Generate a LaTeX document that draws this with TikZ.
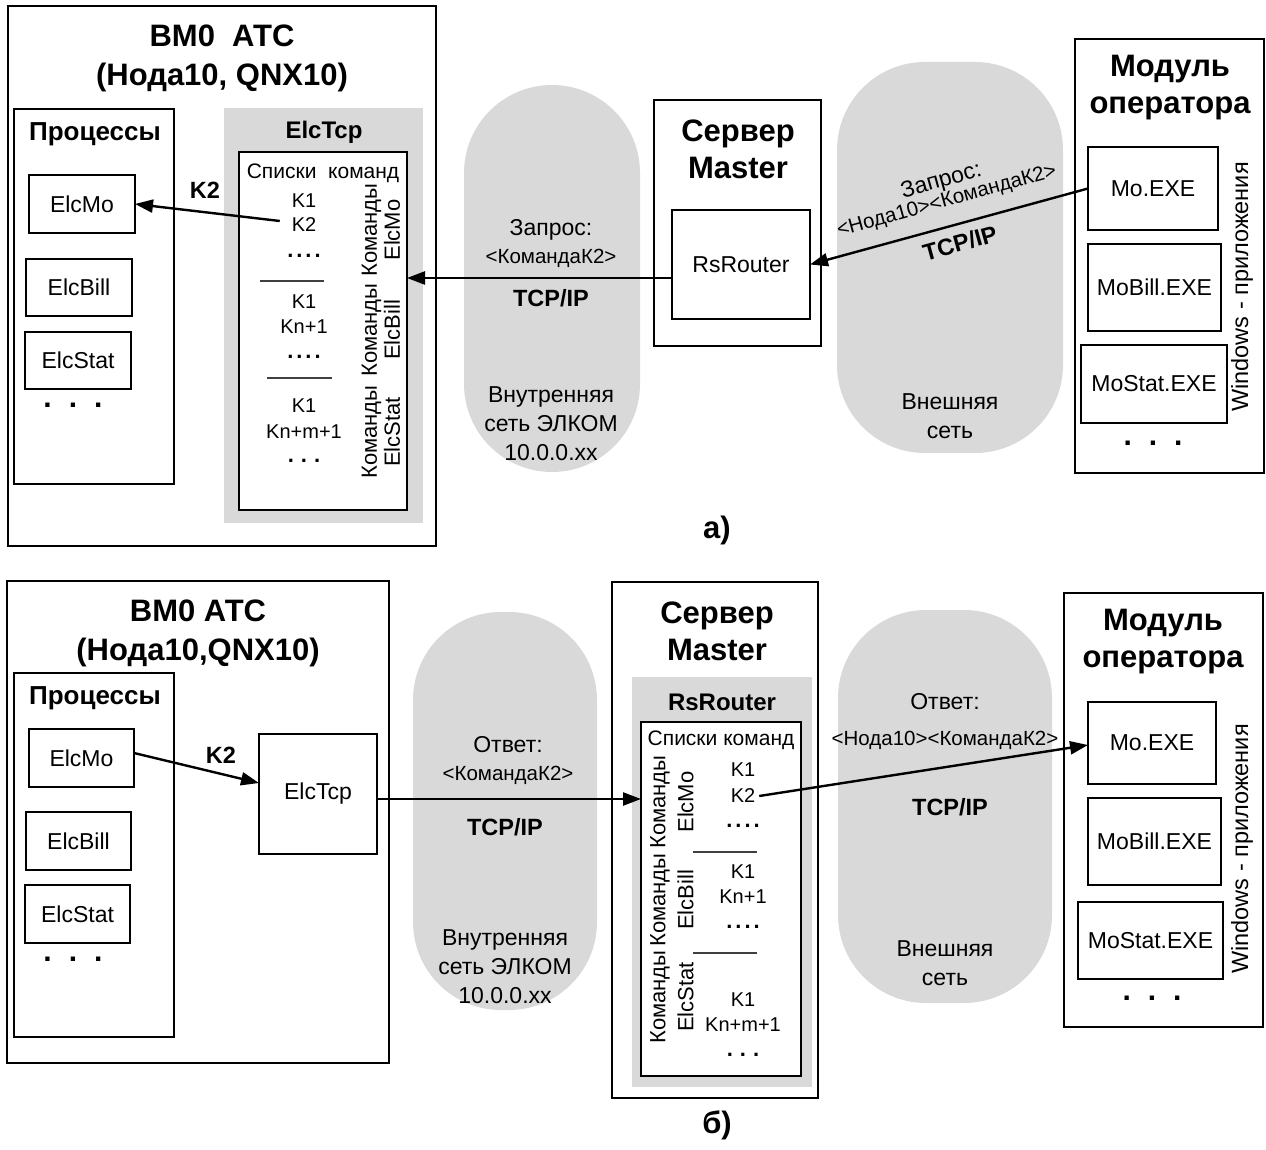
\documentclass[tikz,border=0pt]{standalone}
\usepackage{fontspec}
\setmainfont{Liberation Sans}
\usetikzlibrary{arrows.meta}
\definecolor{netgray}{RGB}{217,217,217}
\newcommand\fsz[2]{\fontsize{#1}{#2}\selectfont}
\newcommand\fourdots{\textbf{.\hspace{3pt}.\hspace{3pt}.\hspace{3pt}.}}
\newcommand\threedots{\textbf{.\hspace{7pt}.\hspace{7pt}.}}
\newcommand\bigdots{.\hspace{17pt}.\hspace{17pt}.}
\begin{document}
\begin{tikzpicture}[x=1pt,y=-1pt,
  every node/.style={inner sep=0pt, outer sep=0pt},
  wh/.style 2 args={minimum width=#1pt, minimum height=#2pt},
  frame/.style={draw, line width=1.8pt, fill=white, font=\fsz{23}{27}},
  graybg/.style={fill=netgray},
  pill/.style={fill=netgray, rounded corners=88pt},
  title/.style={font=\fsz{31}{39}\bfseries, align=center},
  big/.style={font=\fsz{31}{37}\bfseries, align=center},
  head/.style={font=\fsz{26}{30}\bfseries},
  headS/.style={font=\fsz{24}{28}\bfseries},
  txt/.style={font=\fsz{23}{29}, align=center},
  small/.style={font=\fsz{20.5}{24}},
  bold/.style={font=\fsz{23.5}{27}\bfseries},
  lst/.style={font=\fsz{21}{25}},
  kk/.style={font=\fsz{20}{24}},
  kdots/.style={font=\fsz{22}{24}},
  pdots/.style={font=\fsz{30}{30}\bfseries},
  rot/.style={font=\fsz{22}{#1}, rotate=90, align=center},
  sepline/.style={line width=1.2pt, black!75},
  arr/.style={line width=2.4pt, -{Triangle[length=18pt,width=13pt]}}
]
\useasboundingbox (0,0) rectangle (1266,1150);

% ================= (а) =================
% networks
\node[pill, wh={176}{387}] (netinA) at (552,278.5) {};
\node[pill, wh={226}{391}] (netexA) at (950,257.5) {};
\node[txt] at (551,230) {Запрос:};
\node[small] at (551,258) {<КомандаК2>};
\node[bold] at (551,298) {TCP/IP};
\node[txt] at (551,424) {Внутренняя\\сеть ЭЛКОМ\\10.0.0.xx};
\node[txt] at (950,416) {Внешняя\\сеть};

% station
\node[frame, wh={428}{540}] (bmA) at (222,276) {};
\node[title] at (222,58) {ВМ0\ \ АТС\\(Нода10, QNX10)};
\node[frame, wh={160}{375}] (procA) at (94,296.5) {};
\node[head] at (95,134) {Процессы};
\node[frame, wh={106}{58}] (elcmoA) at (82,204) {ElcMo};
\node[frame, wh={106}{57}] (elcbillA) at (79,287.5) {ElcBill};
\node[frame, wh={106}{57}] (elcstatA) at (78,360.5) {ElcStat};
\node[pdots] at (73,405) {\bigdots};

\node[graybg, wh={199}{415}] (tcpbgA) at (323.5,315.5) {};
\node[headS] at (324,132) {ElcTcp};
\node[frame, wh={168}{358}] (listA) at (323,331) {};
\node[lst] at (323,173) {Списки\ \ команд};
\node[kk] at (304,201) {K1};
\node[kk] (kA2) at (304,225) {K2};
\node[kdots] at (304,256) {\fourdots};
\draw[sepline] (260,281) -- (324,281);
\node[kk] at (304,302) {K1};
\node[kk] at (304,327) {Kn+1};
\node[kdots] at (304,357) {\fourdots};
\draw[sepline] (267,378) -- (332,378);
\node[kk] at (304,406) {K1};
\node[kk] at (304,432) {Kn+m+1};
\node[kdots] at (304,461) {\threedots};
\node[rot=23] at (381,230) {Команды\\ElcMo};
\node[rot=23] at (381,330) {Команды\\ElcBill};
\node[rot=23] at (381,432) {Команды\\ElcStat};

% master server
\node[frame, wh={167}{246}] (srvA) at (737.5,223) {};
\node[big] at (738,149) {Сервер\\Master};
\node[frame, wh={138}{109}] (rsA) at (741,264.5) {RsRouter};

% operator module
\node[frame, wh={189}{434}] (modA) at (1169.5,256) {};
\node[big] at (1170,88) {Модуль\\оператора};
\node[frame, wh={130}{83}] (moA) at (1153,188.5) {Mo.EXE};
\node[frame, wh={133}{87}] (mobillA) at (1154.5,287.5) {MoBill.EXE};
\node[frame, wh={146}{78}] (mostatA) at (1154,384) {MoStat.EXE};
\node[pdots] at (1153,443) {\bigdots};
\node[txt, font=\fsz{23.5}{28}, rotate=90] at (1242,287) {Windows - приложения};

% request path
\coordinate (reqA) at (0,278);
\draw[arr] (moA.west) -- (rsA.east);
\draw[arr] (rsA.west |- reqA) -- (listA.east |- reqA);
\draw[arr] ([xshift=-12pt,yshift=4pt]kA2.west) -- (elcmoA.east);
\node[bold] at (205,190) {K2};
\node[rotate=15.5, align=center] at (944,191)
  {{\fsz{23}{27}Запрос:}\\{\fsz{20.5}{27}<Нода10><КомандаК2>}};
\node[bold, rotate=15.5] at (960,243) {TCP/IP};

\node[big] at (717,530) {а)};

% ================= (б) =================
% networks
\node[pill, wh={184}{398}] (netinB) at (505,811) {};
\node[pill, wh={214}{393}] (netexB) at (945,806.5) {};
\node[txt] at (508,745) {Ответ:};
\node[small] at (508,775) {<КомандаК2>};
\node[bold] at (505,827) {TCP/IP};
\node[txt] at (505,967) {Внутренняя\\сеть ЭЛКОМ\\10.0.0.xx};
\node[txt] at (945,702) {Ответ:};
\node[small] at (945,740) {<Нода10><КомандаК2>};
\node[bold] at (950,807) {TCP/IP};
\node[txt] at (945,963) {Внешняя\\сеть};

% station
\node[frame, wh={382}{482}] (bmB) at (198,822) {};
\node[title] at (198,633) {ВМ0 АТС\\(Нода10,QNX10)};
\node[frame, wh={160}{364}] (procB) at (94,855) {};
\node[head] at (95,698) {Процессы};
\node[frame, wh={105}{58}] (elcmoB) at (81.5,758) {ElcMo};
\node[frame, wh={105}{58}] (elcbillB) at (78.5,841) {ElcBill};
\node[frame, wh={105}{58}] (elcstatB) at (77.5,914) {ElcStat};
\node[pdots] at (73,959) {\bigdots};
\node[frame, wh={118}{120}] (tcpB) at (318,794) {ElcTcp};

% master server
\node[frame, wh={206}{516}] (srvB) at (715,840) {};
\node[big] at (717,631) {Сервер\\Master};
\node[graybg, wh={180}{410}] (rsbgB) at (722,882) {};
\node[headS] at (722,702) {RsRouter};
\node[frame, wh={160}{354}] (listB) at (721,899) {};
\node[lst] at (721,740) {Списки команд};
\node[kk] at (743,770) {K1};
\node[kk] (kB2) at (743,796) {K2};
\node[kdots] at (743,826) {\fourdots};
\draw[sepline] (693,852) -- (757,852);
\node[kk] at (743,872) {K1};
\node[kk] at (743,897) {Kn+1};
\node[kdots] at (743,927) {\fourdots};
\draw[sepline] (693,953) -- (757,953);
\node[kk] at (743,1000) {K1};
\node[kk] at (743,1025) {Kn+m+1};
\node[kdots] at (743,1055) {\threedots};
\node[rot=28] at (672,802) {Команды\\ElcMo};
\node[rot=28] at (672,900) {Команды\\ElcBill};
\node[rot=28] at (672,997) {Команды\\ElcStat};

% operator module
\node[frame, wh={199}{434}] (modB) at (1163.5,810) {};
\node[big] at (1163,642) {Модуль\\оператора};
\node[frame, wh={128}{82}] (moB) at (1152,743) {Mo.EXE};
\node[frame, wh={133}{87}] (mobillB) at (1154.5,841.5) {MoBill.EXE};
\node[frame, wh={145}{77}] (mostatB) at (1150.5,940.5) {MoStat.EXE};
\node[pdots] at (1152,998) {\bigdots};
\node[txt, font=\fsz{23.5}{28}, rotate=90] at (1242,849) {Windows - приложения};

% reply path
\coordinate (repB) at (0,799);
\draw[arr] ([yshift=5pt]elcmoB.east) -- ([yshift=11pt]tcpB.west);
\node[bold] at (221,755) {K2};
\draw[arr] (tcpB.east |- repB) -- (listB.west |- repB);
\draw[arr] ([xshift=4pt]kB2.east) -- ([yshift=-2pt]moB.west);

\node[big] at (717,1125) {б)};
\end{tikzpicture}
\end{document}
